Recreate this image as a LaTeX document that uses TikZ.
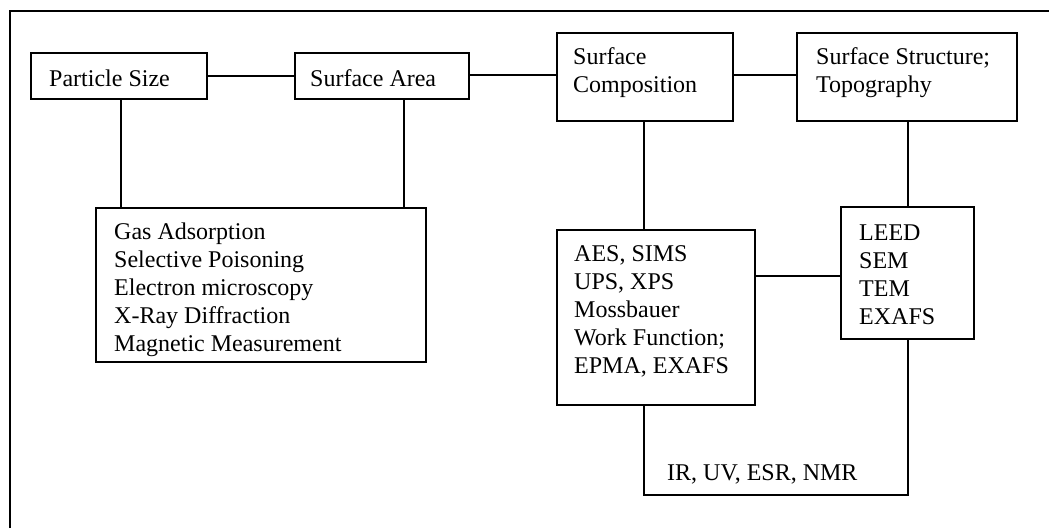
\documentclass[tikz,border=0pt]{standalone}
\usepackage{fontspec}
\setmainfont{Liberation Serif}
\begin{document}
\begin{tikzpicture}[x=1pt,y=-1pt,
  box/.style={draw,line width=1.6pt,inner sep=0pt},
  txt/.style={anchor=north west,inner sep=0pt,align=left,font=\fontsize{24}{28}\selectfont},
  link/.style={line width=1.5pt}]
\useasboundingbox (0,0) rectangle (1049,528);
% frame
\coordinate (f0) at (10,528);
\coordinate (f1) at (10,11);
\coordinate (f2) at (1049,11);
\draw[line width=2pt] (f0) -- (f1) -- (f2);
% boxes
\node[box,minimum width=176pt,minimum height=46pt] (P) at (119,76) {};
\node[box,minimum width=174pt,minimum height=46pt] (A) at (382,76) {};
\node[box,minimum width=176pt,minimum height=88pt] (C) at (645,77) {};
\node[box,minimum width=220pt,minimum height=88pt] (S) at (907,77) {};
\node[box,minimum width=330pt,minimum height=154pt] (G) at (261,285) {};
\node[box,minimum width=198pt,minimum height=175pt] (E) at (656,317.5) {};
\node[box,minimum width=133pt,minimum height=132pt] (L) at (907.5,273) {};
% texts
\node[txt] (tP) at (49,66.4) {\strut Particle Size};
\node[txt] (tA) at (310,66.4) {\strut Surface Area};
\node[txt] (tC) at (573,44.4) {\strut Surface\\Composition};
\node[txt] (tS) at (816,44.4) {\strut Surface Structure;\\Topography};
\node[txt] (tG) at (114,219.4) {\strut Gas Adsorption\\Selective Poisoning\\Electron microscopy\\X-Ray Diffraction\\Magnetic Measurement};
\node[txt] (tE) at (574,241.4) {\strut AES, SIMS\\UPS, XPS\\Mossbauer\\Work Function;\\EPMA, EXAFS};
\node[txt] (tL) at (859,220.4) {\strut LEED\\SEM\\TEM\\EXAFS};
\node[txt] (tIR) at (667,460.4) {\strut IR, UV, ESR, NMR};
% connectors
\draw[link] (P.east) -- (A.west);
\draw[link] ([yshift=1pt]A.east) -- ([yshift=1pt]A.east -| C.west);
\draw[link] ([yshift=2pt]C.east) -- ([yshift=2pt]C.east -| S.west);
\draw[link] ([xshift=2pt]P.south) -- ([xshift=2pt]P.south |- G.north);
\draw[link] ([xshift=22pt]A.south) -- ([xshift=22pt]A.south |- G.north);
\draw[link] ([xshift=-1pt]C.south) -- ([xshift=-1pt]C.south |- E.north);
\draw[link] ([xshift=1pt]S.south) -- ([xshift=1pt]S.south |- L.north);
\draw[link] ([yshift=41.5pt]E.east) -- ([yshift=41.5pt]E.east -| L.west);
\draw[link] ([xshift=-12pt]E.south) -- ++(0,89) -| ([xshift=0.5pt]L.south);
\end{tikzpicture}
\end{document}
